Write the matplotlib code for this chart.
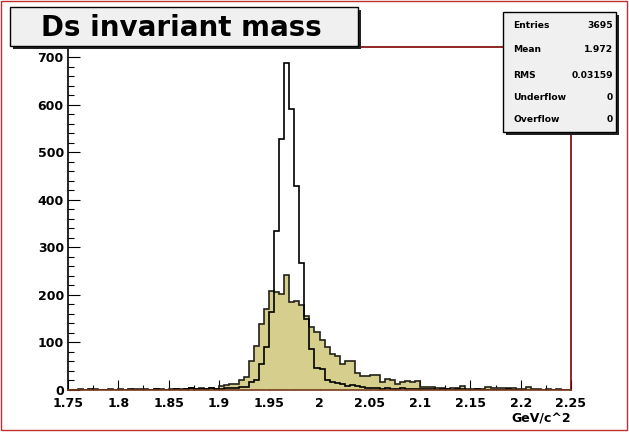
import numpy as np
import matplotlib
matplotlib.use("Agg")
import matplotlib.pyplot as plt
from matplotlib.patches import Rectangle
from matplotlib.ticker import MultipleLocator

# ---- data ----
x_min, x_max, n_bins = 1.75, 2.25, 100
signal_counts = [
    1, 0, 1, 0, 2, 0, 1, 0, 1, 1,
    0, 1, 2, 1, 0, 1, 1, 2, 1, 1,
    1, 2, 1, 3, 5, 2, 3, 2, 4, 2,
    2, 4, 4, 5, 7, 7, 16, 22, 55, 90,
    164, 334, 527, 687, 591, 429, 268, 150, 87, 47,
    44, 20, 17, 15, 12, 8, 10, 8, 6, 5,
    5, 4, 3, 4, 3, 3, 4, 2, 3, 3,
    2, 2, 3, 1, 2, 2, 1, 2, 2, 1,
    1, 2, 1, 1, 0, 1, 1, 2, 1, 1,
    1, 0, 1, 1, 0, 1, 0, 1, 1, 0,
]
filled_counts = [
    1, 1, 2, 1, 0, 2, 1, 1, 2, 1,
    2, 1, 1, 2, 3, 2, 1, 2, 2, 1,
    2, 2, 3, 3, 4, 3, 4, 3, 5, 3,
    8, 10, 12, 12, 20, 27, 62, 92, 139, 170,
    209, 207, 201, 242, 184, 187, 178, 155, 132, 122,
    106, 90, 75, 72, 55, 62, 62, 35, 30, 30,
    31, 31, 16, 23, 21, 12, 16, 19, 16, 18,
    6, 7, 6, 5, 5, 3, 5, 5, 9, 3,
    2, 2, 2, 7, 5, 4, 5, 5, 5, 2,
    2, 6, 3, 2, 1, 2, 1, 2, 1, 1,
]
title_text = "Ds invariant mass"
x_label = "GeV/c^2"
stats_names = ["Entries", "Mean", "RMS", "Underflow", "Overflow"]
stats_values = ["3695", "1.972", "0.03159", "0", "0"]

# ---- figure ----
W, H = 629, 432
fig = plt.figure(figsize=(W / 100, H / 100), dpi=100)
plt.rcParams['font.family'] = ['DejaVu Sans']

def fx(px):
    return px / W

def fy(py):
    return 1 - py / H

ax_l, ax_r, ax_t, ax_b = 68, 571, 47, 390
ax = fig.add_axes([fx(ax_l), fy(ax_b), (ax_r - ax_l) / W, (ax_b - ax_t) / H])

edges = np.linspace(x_min, x_max, n_bins + 1)
ax.stairs(filled_counts, edges, fill=True, color='#d5ce8d', zorder=2)
ax.stairs(filled_counts, edges, color='#22221a', linewidth=1.2, zorder=3)
ax.stairs(signal_counts, edges, color='black', linewidth=1.2, zorder=4)

ax.set_xlim(x_min, x_max)
ax.set_ylim(0, 721)

ax.xaxis.set_major_locator(MultipleLocator(0.05))
ax.xaxis.set_minor_locator(MultipleLocator(0.025))
ax.yaxis.set_major_locator(MultipleLocator(100))
ax.yaxis.set_minor_locator(MultipleLocator(20))
ax.xaxis.set_major_formatter(matplotlib.ticker.FuncFormatter(lambda v, p: f"{v:g}"))
ax.tick_params(axis='x', which='major', direction='in', length=7.2, width=0.8, pad=5,
               labelsize=9, top=False)
ax.tick_params(axis='x', which='minor', direction='in', length=3.6, width=0.8, top=False)
ax.tick_params(axis='y', which='major', direction='in', length=8.6, width=0.8, pad=3,
               labelsize=9, right=False)
ax.tick_params(axis='y', which='minor', direction='in', length=4.3, width=0.8, right=False)
for lab in ax.get_xticklabels() + ax.get_yticklabels():
    lab.set_fontweight('bold')

ax.spines['left'].set_color('black')
ax.spines['bottom'].set_color('#7a3a1a')
ax.spines['top'].set_color('#800000')
ax.spines['right'].set_color('#800000')
for s in ax.spines.values():
    s.set_linewidth(1.2)
    s.set_zorder(5)

ax.text(1.0, -0.065, x_label, transform=ax.transAxes, ha='right', va='top',
        fontsize=9, fontweight='bold')

# canvas border
fig.patches.append(Rectangle((fx(1), fy(430)), fx(626), (429) / H, transform=fig.transFigure,
                             fill=False, edgecolor='#c03030', linewidth=1.0))

def box(x0, y0, x1, y1, z=10):
    sh = 3
    fig.patches.append(Rectangle((fx(x0 + sh), fy(y1 + sh)), (x1 - x0) / W, (y1 - y0) / H,
                                 transform=fig.transFigure, facecolor='#222222',
                                 edgecolor='none', zorder=z))
    fig.patches.append(Rectangle((fx(x0), fy(y1)), (x1 - x0) / W, (y1 - y0) / H,
                                 transform=fig.transFigure, facecolor='#f0f0f0',
                                 edgecolor='black', linewidth=1.0, zorder=z + 1))

# title box
box(10, 7, 358, 46)
fig.text(fx(181), fy(28), title_text, ha='center', va='center', fontsize=20,
         fontweight='bold', zorder=20)

# stats box
box(503, 12, 616, 132)
row_y = [25, 50, 75, 98, 120]
for name, val, yy in zip(stats_names, stats_values, row_y):
    fig.text(fx(513), fy(yy), name, ha='left', va='center', fontsize=6.6,
             fontweight='bold', zorder=20)
    fig.text(fx(613), fy(yy), val, ha='right', va='center', fontsize=6.6,
             fontweight='bold', zorder=20)

fig.savefig('out.png', dpi=100)
